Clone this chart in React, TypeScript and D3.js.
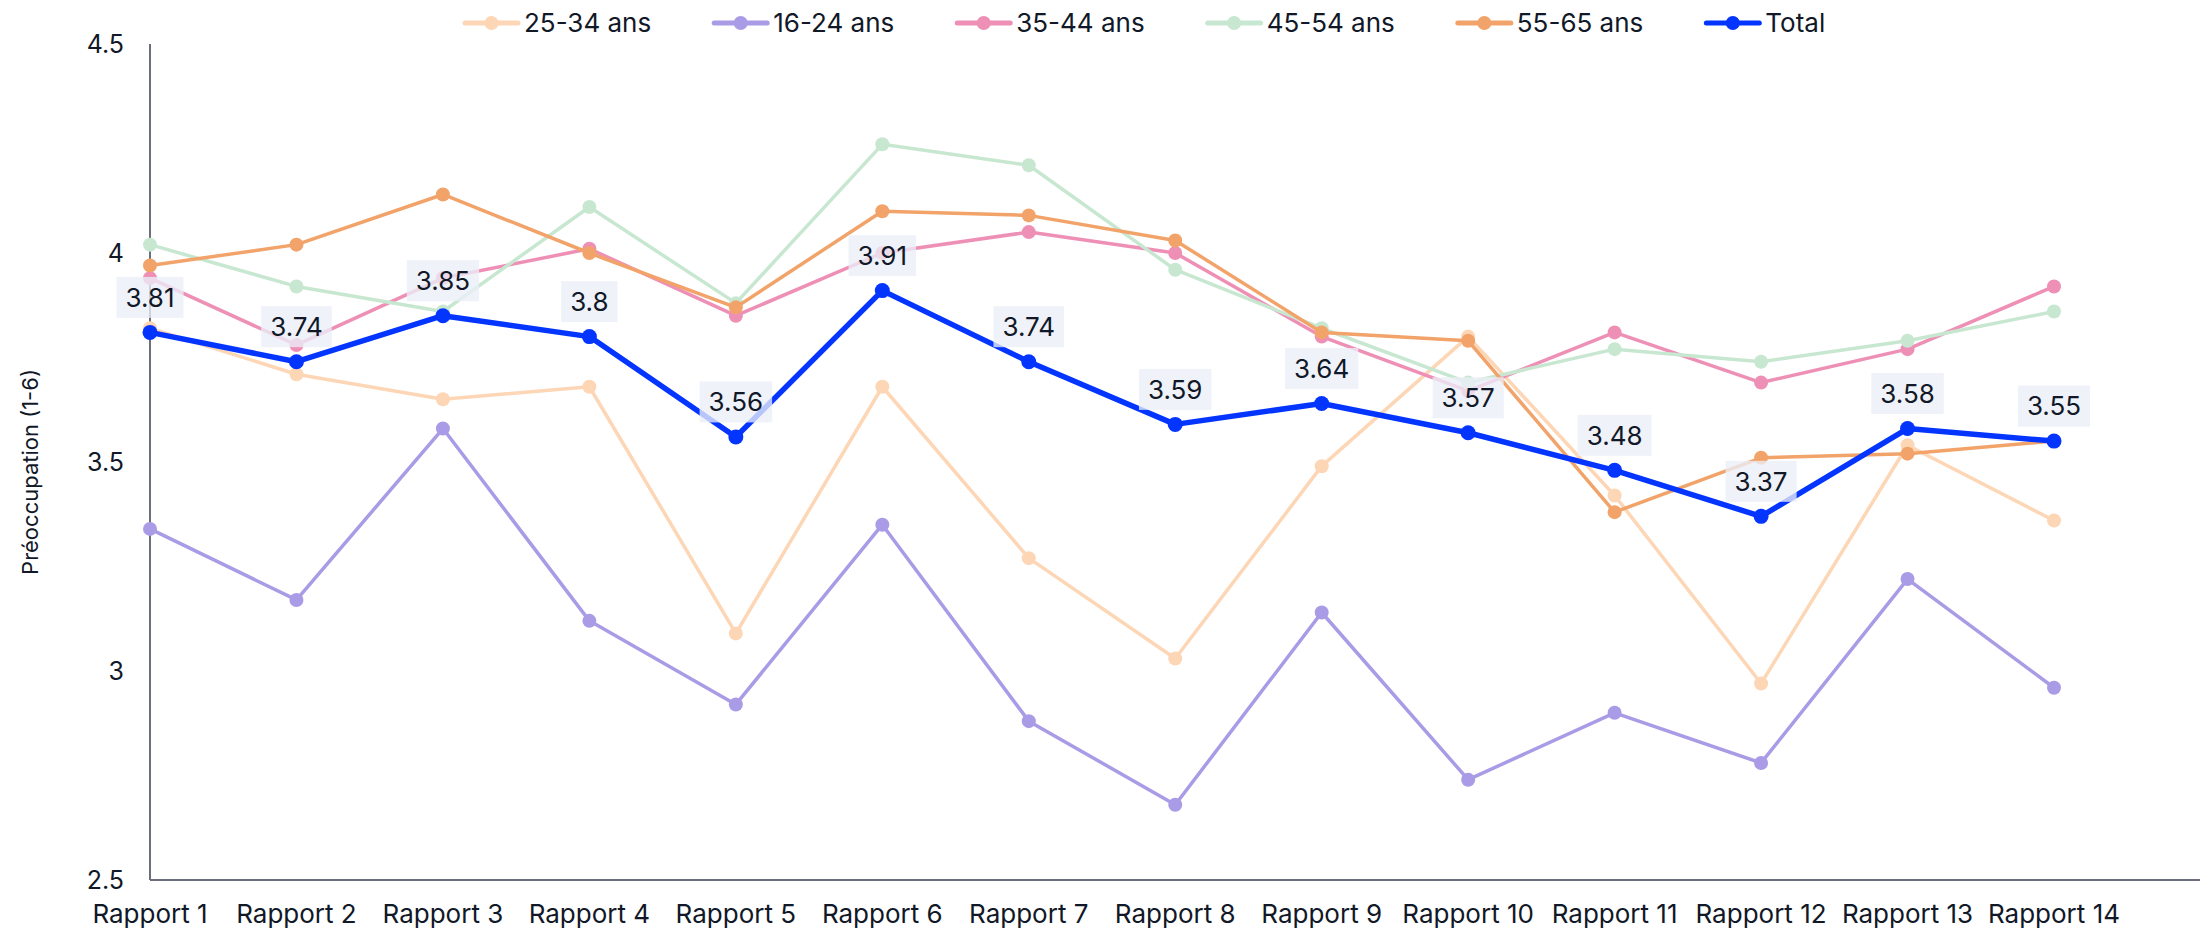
import * as React from 'react';
import { select, scalePoint, scaleLinear, line } from 'd3';

const categories = [
  'Rapport 1', 'Rapport 2', 'Rapport 3', 'Rapport 4', 'Rapport 5', 'Rapport 6', 'Rapport 7',
  'Rapport 8', 'Rapport 9', 'Rapport 10', 'Rapport 11', 'Rapport 12', 'Rapport 13', 'Rapport 14',
];

const age2534 = [3.82, 3.71, 3.65, 3.68, 3.09, 3.68, 3.27, 3.03, 3.49, 3.8, 3.42, 2.97, 3.54, 3.36];
const age1624 = [3.34, 3.17, 3.58, 3.12, 2.92, 3.35, 2.88, 2.68, 3.14, 2.74, 2.9, 2.78, 3.22, 2.96];
const age3544 = [3.94, 3.78, 3.94, 4.01, 3.85, 4.0, 4.05, 4.0, 3.8, 3.67, 3.81, 3.69, 3.77, 3.92];
const age4554 = [4.02, 3.92, 3.86, 4.11, 3.88, 4.26, 4.21, 3.96, 3.82, 3.69, 3.77, 3.74, 3.79, 3.86];
const age5565 = [3.97, 4.02, 4.14, 4.0, 3.87, 4.1, 4.09, 4.03, 3.81, 3.79, 3.38, 3.51, 3.52, 3.55];
const total = [3.81, 3.74, 3.85, 3.8, 3.56, 3.91, 3.74, 3.59, 3.64, 3.57, 3.48, 3.37, 3.58, 3.55];

const yTicks = [2.5, 3, 3.5, 4, 4.5];

interface ISeries {
  name: string;
  values: number[];
  color: string;
  width: number;
}

const series: ISeries[] = [
  { name: '25-34 ans', values: age2534, color: '#fdd6b6', width: 3.5 },
  { name: '16-24 ans', values: age1624, color: '#aa9be6', width: 3.5 },
  { name: '35-44 ans', values: age3544, color: '#ee90b6', width: 3.5 },
  { name: '45-54 ans', values: age4554, color: '#c8e7d1', width: 3.5 },
  { name: '55-65 ans', values: age5565, color: '#f2a36a', width: 3.5 },
  { name: 'Total', values: total, color: '#0335ff', width: 5.5 },
];

const W = 2208;
const H = 932;
const textColor = '#111827';
const font = 'Inter, sans-serif';

export default function App() {
  const ref = React.useRef<SVGSVGElement>(null);

  React.useEffect(() => {
    const svg = select(ref.current);
    svg.selectAll('*').remove();

    const x = scalePoint<string>().domain(categories).range([150, 2054]);
    const y = scaleLinear().domain([2.5, 4.5]).range([880, 44]);

    // axes
    svg.append('line')
      .attr('x1', 150).attr('x2', 150).attr('y1', y(4.5)).attr('y2', y(2.5))
      .attr('stroke', '#6b6f7c').attr('stroke-width', 2);
    svg.append('line')
      .attr('x1', 150).attr('x2', 2200).attr('y1', y(2.5)).attr('y2', y(2.5))
      .attr('stroke', '#6b6f7c').attr('stroke-width', 2);

    svg.append('g').selectAll('text')
      .data(yTicks)
      .join('text')
      .attr('x', 124)
      .attr('y', (d) => y(d))
      .attr('dy', '0.36em')
      .attr('text-anchor', 'end')
      .attr('font-family', font)
      .attr('font-size', 25)
      .attr('fill', textColor)
      .text((d) => String(d));

    svg.append('g').selectAll('text')
      .data(categories)
      .join('text')
      .attr('x', (d) => x(d))
      .attr('y', 923)
      .attr('text-anchor', 'middle')
      .attr('font-family', font)
      .attr('font-size', 26)
      .attr('fill', textColor)
      .text((d) => d);

    svg.append('text')
      .attr('transform', `translate(30, 472) rotate(-90)`)
      .attr('dy', '0.35em')
      .attr('text-anchor', 'middle')
      .attr('font-family', font)
      .attr('font-size', 22)
      .attr('fill', textColor)
      .text('Préoccupation (1-6)');

    // lines
    const mk = line<number>()
      .x((_, i) => x(categories[i]) as number)
      .y((d) => y(d));

    series.forEach((s) => {
      const g = svg.append('g');
      g.append('path')
        .datum(s.values)
        .attr('fill', 'none')
        .attr('stroke', s.color)
        .attr('stroke-width', s.width)
        .attr('stroke-linejoin', 'round')
        .attr('d', mk);
      g.selectAll('circle')
        .data(s.values)
        .join('circle')
        .attr('cx', (_, i) => x(categories[i]) as number)
        .attr('cy', (d) => y(d))
        .attr('r', s.name === 'Total' ? 7.5 : 7)
        .attr('fill', s.color);
    });

    // data labels for total
    const lab = svg.append('g');
    total.forEach((v, i) => {
      const cx = x(categories[i]) as number;
      const g = lab.append('g');
      const rect = g.append('rect');
      const t = g.append('text')
        .attr('x', cx)
        .attr('y', y(v) - 35)
        .attr('dy', '0.36em')
        .attr('text-anchor', 'middle')
        .attr('font-family', font)
        .attr('font-size', 26)
        .attr('fill', textColor)
        .text(String(v));
      const tw = (t.node() as SVGTextElement).getComputedTextLength();
      rect.attr('x', cx - tw / 2 - 9)
        .attr('y', y(v) - 55.5)
        .attr('width', tw + 18)
        .attr('height', 41)
        .attr('fill', '#eceef8')
        .attr('fill-opacity', 0.78);
    });

    // legend
    const leg = svg.append('g');
    let lx = 465;
    series.forEach((s) => {
      const g = leg.append('g').attr('transform', `translate(${lx}, 23)`);
      g.append('line').attr('x1', 0).attr('x2', 53).attr('y1', 0).attr('y2', 0)
        .attr('stroke', s.color).attr('stroke-width', 5).attr('stroke-linecap', 'round');
      g.append('circle').attr('cx', 26.5).attr('cy', 0).attr('r', 7).attr('fill', s.color);
      const t = g.append('text')
        .attr('x', 59)
        .attr('dy', '0.36em')
        .attr('font-family', font)
        .attr('font-size', 26)
        .attr('fill', textColor)
        .text(s.name);
      const tw = (t.node() as SVGTextElement).getComputedTextLength();
      lx += 59 + tw + 63;
    });
  }, []);

  return (
    <svg ref={ref} width={W} height={H} style={{ position: 'absolute', left: 0, top: 0, background: '#fff' }} />
  );
}
